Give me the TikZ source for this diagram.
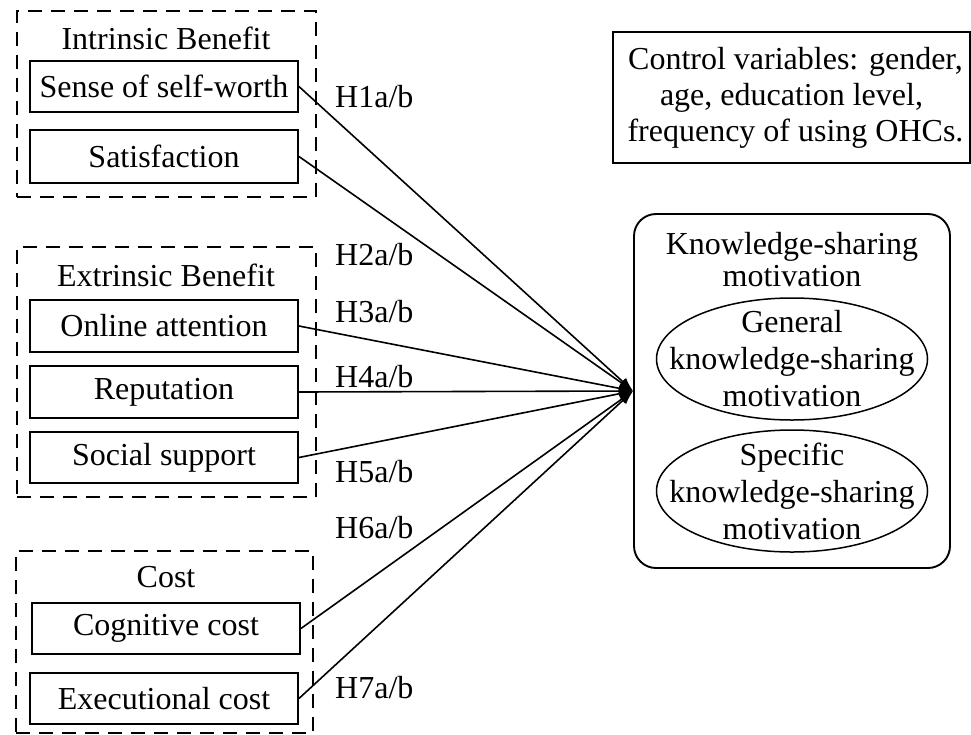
\documentclass[tikz,border=0pt]{standalone}
\usepackage{fontspec}
\setmainfont{Liberation Serif}
\usetikzlibrary{arrows.meta,shapes.geometric}
\tikzset{
  every node/.style={font=\fontsize{32}{37}\selectfont},
  itembox/.style={draw, line width=1.9pt, minimum width=268pt, minimum height=51pt, inner sep=0pt},
  groupbox/.style={draw, line width=1.7pt, dash pattern=on 14pt off 9pt, inner sep=0pt},
  ellbox/.style={draw, ellipse, line width=1.5pt, minimum width=271pt, minimum height=122pt, inner sep=0pt},
  plain/.style={inner sep=0pt, align=center},
  hyp/.style={inner sep=0pt, anchor=west},
  conn/.style={line width=1.6pt, -{Latex[length=14pt,width=10pt]}}
}
\begin{document}
\begin{tikzpicture}[x=1pt,y=-1pt]
\useasboundingbox (0,0) rectangle (971,734);
% group boxes
\node[groupbox, minimum width=299pt, minimum height=186pt] (ib) at (166.5,104) {};
\node[groupbox, minimum width=299pt, minimum height=250pt] (eb) at (166.5,372) {};
\node[groupbox, minimum width=297pt, minimum height=182pt] (cg) at (164.5,642) {};
\node[plain] (ibt) at (166,38) {Intrinsic Benefit};
\node[plain] (ebt) at (166,275) {Extrinsic Benefit};
\node[plain] (cgt) at (166,577) {Cost};
% items
\node[itembox] (sw) at (164,86.5) {Sense of self-worth};
\node[itembox, minimum height=53pt] (sat) at (164,156.5) {Satisfaction};
\node[itembox, minimum height=52pt] (oa) at (164,326) {Online attention};
\node[itembox, minimum height=52pt] (rep) at (164,392) {Reputation};
\node[itembox] (ss) at (164,457.5) {Social support};
\node[itembox] (cog) at (166,628.5) {Cognitive cost};
\node[itembox] (exe) at (164,698.5) {Executional cost};
% right side
\node[draw, line width=1.9pt, rounded corners=22pt, minimum width=316pt, minimum height=354pt, inner sep=0pt] (kb) at (792,391) {};
\node[plain, font=\fontsize{32}{32}\selectfont] (kbt) at (792,260) {Knowledge-sharing\\motivation};
\node[ellbox] (e1) at (792,359) {};
\node[plain] (e1t) at (e1.center) {General\\knowledge-sharing\\motivation};
\node[ellbox] (e2) at (792,491) {};
\node[plain] (e2t) at (e2.center) {Specific\\knowledge-sharing\\motivation};
\node[draw, line width=1.9pt, minimum width=357pt, minimum height=131pt, inner sep=0pt, align=center, font=\fontsize{32}{36}\selectfont] (ctrl) at (791.5,97.5) {\hspace*{8pt}Control variables: gender,\\age, education level,\\\hspace*{8pt}frequency of using OHCs.};
% connectors
\draw[conn] (sw.east) -- (kb.west);
\draw[conn] (sat.east) -- (kb.west);
\draw[conn] (oa.east) -- (kb.west);
\draw[conn] (rep.east) -- (kb.west);
\draw[conn] (ss.east) -- (kb.west);
\draw[conn] (cog.east) -- (kb.west);
\draw[conn] (exe.east) -- (kb.west);
% hypothesis labels
\node[hyp] (h1) at (335,97) {H1a/b};
\node[hyp] (h2) at (335,255) {H2a/b};
\node[hyp] (h3) at (335,312) {H3a/b};
\node[hyp] (h4) at (335,377) {H4a/b};
\node[hyp] (h5) at (335,472) {H5a/b};
\node[hyp] (h6) at (335,528) {H6a/b};
\node[hyp] (h7) at (335,688) {H7a/b};
\end{tikzpicture}
\end{document}
